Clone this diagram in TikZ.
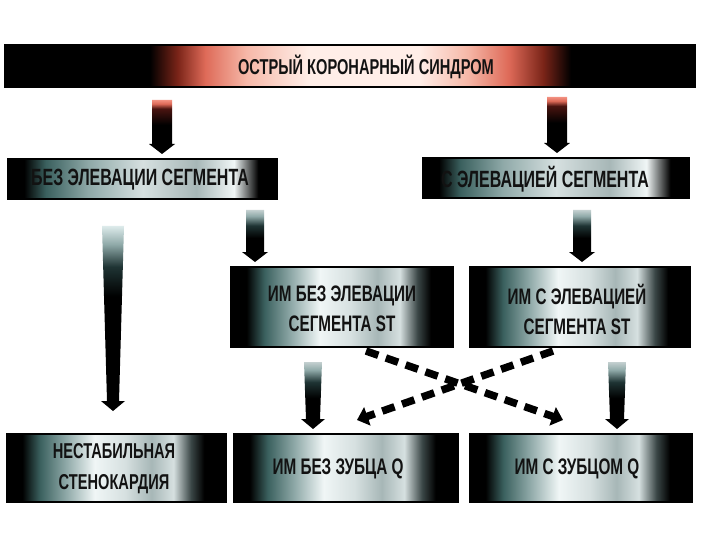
\documentclass[tikz,border=0pt]{standalone}
\usepackage{fontspec}
\newfontfamily\condfont{Liberation Sans}[FakeStretch=0.68]
\usetikzlibrary{calc,arrows.meta}
\definecolor{txt}{HTML}{121212}
\definecolor{tealdark}{HTML}{3A605E}
\definecolor{tealmid}{HTML}{8FA9A8}
\definecolor{silverwhite}{HTML}{F0F6F6}
\definecolor{silverlight}{HTML}{D6E0E0}
\definecolor{silvermid}{HTML}{A7B7B7}
\definecolor{tealdeep}{HTML}{3A4646}
\definecolor{redA}{HTML}{7A2418}
\definecolor{redB}{HTML}{DE6A58}
\definecolor{pinkA}{HTML}{F6B8A8}
\definecolor{pinkB}{HTML}{FFEEE8}
\definecolor{arrowpink}{HTML}{F29080}
\definecolor{arrowlight}{HTML}{DDEBEB}
\definecolor{arrowgray}{HTML}{C4D0D0}
\definecolor{arrowmid}{HTML}{1F3434}
\definecolor{arrowred}{HTML}{4A1410}
\pgfdeclarehorizontalshading{boxshade}{100bp}{color(0bp)=(black); color(28.5bp)=(black); color(32.5bp)=(tealdark); color(38.5bp)=(tealmid); color(45bp)=(silverwhite); color(52bp)=(silverlight); color(58bp)=(silvermid); color(63bp)=(silverlight); color(67bp)=(tealdeep); color(70bp)=(black); color(100bp)=(black)}
\pgfdeclarehorizontalshading{barshade}{100bp}{color(0bp)=(black); color(28bp)=(black); color(32bp)=(tealdark); color(40bp)=(tealmid); color(50bp)=(silverlight); color(60bp)=(silvermid); color(67bp)=(silverwhite); color(71.5bp)=(black); color(100bp)=(black)}
\pgfdeclarehorizontalshading{topshade}{100bp}{color(0bp)=(black); color(35.5bp)=(black); color(37.5bp)=(redA); color(39.5bp)=(redB); color(42.5bp)=(pinkA); color(47bp)=(pinkB); color(55bp)=(pinkB); color(58.5bp)=(pinkA); color(61.5bp)=(redB); color(64bp)=(redA); color(66bp)=(black); color(100bp)=(black)}
\pgfdeclareverticalshading{fadepink}{100bp}{color(0bp)=(black); color(52bp)=(black); color(67bp)=(arrowred); color(71.5bp)=(redB); color(75bp)=(arrowpink); color(100bp)=(arrowpink)}
\pgfdeclareverticalshading{fadelong}{100bp}{color(0bp)=(black); color(56bp)=(black); color(64bp)=(arrowmid); color(70bp)=(tealmid); color(75bp)=(arrowlight); color(100bp)=(arrowlight)}
\pgfdeclareverticalshading{fadegray}{100bp}{color(0bp)=(black); color(48bp)=(black); color(60bp)=(arrowmid); color(69bp)=(tealmid); color(75bp)=(arrowgray); color(100bp)=(arrowgray)}
\tikzset{
  panel/.style={draw=black, line width=2, shading=boxshade, inner sep=0},
  strip/.style={draw=black, line width=2, shading=barshade, inner sep=0},
  banner/.style={draw=black, line width=2, shading=topshade, inner sep=0},
  lbl/.style={text=txt, align=center, inner sep=0, font=\condfont\bfseries\fontsize{22.4}{30}\selectfont},
  dasharr/.style={draw=black, line width=7.5, dash pattern=on 13pt off 8pt, -{Triangle[length=11pt,width=19pt]}}
}
\newcommand{\gconn}[6]{%
  \shade[shading=#6]
    ($(#1)+(-#3,0)$) -- ($(#2)+(-#4,-10)$) -- ($(#2)+(-#5,-10)$) -- (#2)
    -- ($(#2)+(#5,-10)$) -- ($(#2)+(#4,-10)$) -- ($(#1)+(#3,0)$) -- cycle;}
\begin{document}
\begin{tikzpicture}[x=1pt,y=-1pt]
\useasboundingbox[fill=white] (0,0) rectangle (720,540);
% boxes
\node[banner, minimum width=690, minimum height=42] (acs) at (350,66) {};
\node[lbl, font=\condfont\bfseries\fontsize{21.5}{22}\selectfont] (acst) at (366,67) {ОСТРЫЙ КОРОНАРНЫЙ СИНДРОМ};
\node[strip, minimum width=269, minimum height=40] (nost) at (142.5,179) {};
\node[lbl, font=\condfont\bfseries\fontsize{23.5}{24}\selectfont] (nostt) at (140,180) {БЕЗ ЭЛЕВАЦИИ СЕГМЕНТА};
\node[strip, minimum width=266, minimum height=40] (st) at (556,178) {};
\node[lbl, font=\condfont\bfseries\fontsize{23.5}{24}\selectfont] (stt) at (545,179) {С ЭЛЕВАЦИЕЙ СЕГМЕНТА};
\node[panel, minimum width=222, minimum height=80] (imnost) at (342,307) {};
\node[lbl] (imnostt) at (342,309) {ИМ БЕЗ ЭЛЕВАЦИИ\\СЕГМЕНТА ST};
\node[panel, minimum width=220, minimum height=80] (imst) at (580,307) {};
\node[lbl] (imstt) at (577,309) {ИМ С ЭЛЕВАЦИЕЙ\\СЕГМЕНТА ST};
\node[panel, minimum width=219, minimum height=68] (ua) at (116.5,468) {};
\node[lbl, font=\condfont\bfseries\fontsize{21.5}{31}\selectfont] (uat) at (114,469) {НЕСТАБИЛЬНАЯ\\СТЕНОКАРДИЯ};
\node[panel, minimum width=224, minimum height=68] (imnoq) at (346,468) {};
\node[lbl, font=\condfont\bfseries\fontsize{22.5}{24}\selectfont] (imnoqt) at (338,469) {ИМ БЕЗ ЗУБЦА Q};
\node[panel, minimum width=222, minimum height=68] (imq) at (581,468) {};
\node[lbl, font=\condfont\bfseries\fontsize{22.5}{24}\selectfont] (imqt) at (577,469) {ИМ С ЗУБЦОМ Q};
% gradient connectors
\coordinate (s1) at (162,100);
\coordinate (e1) at ($(nost.north -| s1)+(0,-4)$);
\gconn{s1}{e1}{10}{10}{13}{fadepink}
\coordinate (s2) at (557,97);
\coordinate (e2) at ($(st.north -| s2)+(0,-4)$);
\gconn{s2}{e2}{10}{10}{13}{fadepink}
\coordinate (s3) at (113,226);
\coordinate (e3) at ($(ua.north -| s3)+(0,-22)$);
\gconn{s3}{e3}{11}{6}{12}{fadelong}
\coordinate (s4) at (255,210);
\coordinate (e4) at ($(imnost.north -| s4)+(0,-4)$);
\gconn{s4}{e4}{9}{9}{13}{fadegray}
\coordinate (s5) at (582,210);
\coordinate (e5) at ($(imst.north -| s5)+(0,-4)$);
\gconn{s5}{e5}{9}{9}{13}{fadegray}
\coordinate (s6) at (313,362);
\coordinate (e6) at ($(imnoq.north -| s6)+(0,-4)$);
\gconn{s6}{e6}{9}{7}{12}{fadegray}
\coordinate (s7) at (617,362);
\coordinate (e7) at ($(imq.north -| s7)+(0,-4)$);
\gconn{s7}{e7}{9}{7}{12}{fadegray}
% dashed crossing connectors
\coordinate (d1s) at ($(imnost.south)+(24,3)$);
\coordinate (d1e) at ($(imq.north west)+(94,-13)$);
\coordinate (d2s) at ($(imst.south)+(-27,3)$);
\coordinate (d2e) at ($(imnoq.north east)+(-102,-13)$);
\draw[dasharr] (d1s) -- (d1e);
\draw[dasharr] (d2s) -- (d2e);
\end{tikzpicture}
\end{document}
